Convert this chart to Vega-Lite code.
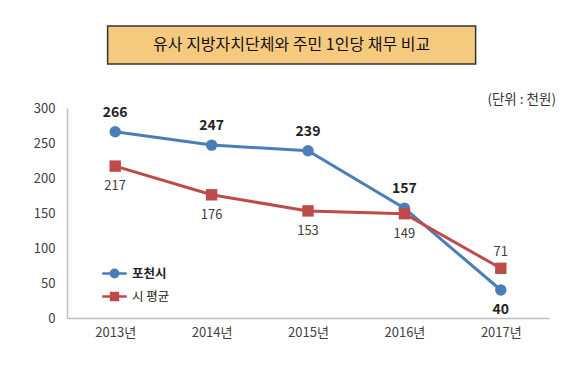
{
  "$schema": "https://vega.github.io/schema/vega-lite/v6.json",
  "padding": {"top": 25, "left": 33, "right": 5, "bottom": 5},
  "background": "white",
  "center": true,
  "spacing": 27,
  "resolve": {"legend": {"color": "independent"}, "scale": {"color": "independent"}},
  "config": {
    "font": "Noto Sans CJK KR",
    "axis": {"domainColor": "#BFBFBF", "domainWidth": 1.5, "ticks": false, "grid": false, "labelColor": "#404040", "labelFontSize": 13, "title": null},
    "legend": {"padding": 0, "rowPadding": -1}
  },
  "vconcat": [
    {
      "width": 368,
      "height": 38,
      "view": {"fill": "#F5CA7F", "stroke": "#333333", "strokeWidth": 1.5},
      "title": {"text": " ", "orient": "right", "offset": 26},
      "data": {"values": [{"t": "유사 지방자치단체와 주민 1인당 채무 비교"}]},
      "mark": {"type": "text", "fontSize": 16, "color": "#111111"},
      "encoding": {"text": {"field": "t"}}
    },
    {
      "width": 482,
      "height": 210,
      "view": {"stroke": null},
      "title": {"text": "(단위 : 천원)", "anchor": "end", "fontSize": 13.5, "fontWeight": "normal", "color": "#333333", "dx": 7, "offset": -4},
      "data": {"values": [
        {"year": "2013년", "series": "포천시", "value": 266},
        {"year": "2014년", "series": "포천시", "value": 247},
        {"year": "2015년", "series": "포천시", "value": 239},
        {"year": "2016년", "series": "포천시", "value": 157},
        {"year": "2017년", "series": "포천시", "value": 40},
        {"year": "2013년", "series": "시 평균", "value": 217},
        {"year": "2014년", "series": "시 평균", "value": 176},
        {"year": "2015년", "series": "시 평균", "value": 153},
        {"year": "2016년", "series": "시 평균", "value": 149},
        {"year": "2017년", "series": "시 평균", "value": 71}
      ]},
      "encoding": {
        "x": {"field": "year", "type": "ordinal", "sort": null, "scale": {"type": "point", "padding": 0.5}, "axis": {"labelAngle": 0, "labelPadding": 8}},
        "y": {"field": "value", "type": "quantitative", "scale": {"domain": [0, 300], "nice": false}, "axis": {"values": [0, 50, 100, 150, 200, 250, 300], "labelPadding": 12}}
      },
      "layer": [
        {
          "mark": {"type": "line", "strokeWidth": 3},
          "encoding": {
            "color": {"field": "series", "type": "nominal", "scale": {"domain": ["포천시", "시 평균"], "range": ["#4A7EBB", "#BE4B48"]},
              "legend": {"title": null, "orient": "none", "legendX": 34, "legendY": 152, "symbolSize": 600, "labelFontSize": 12.5, "labelColor": "#222222",
                "encode": {
                  "symbols": {"update": {
                    "shape": {"signal": "datum.value === '포천시' ? 'M-1,0H1M-0.3,0A0.3,0.3,0,1,1,0.3,0A0.3,0.3,0,1,1,-0.3,0Z' : 'M-1,0H1M-0.28,-0.28H0.28V0.28H-0.28Z'"},
                    "fill": {"signal": "datum.value === '포천시' ? '#4A7EBB' : '#BE4B48'"},
                    "stroke": {"signal": "datum.value === '포천시' ? '#4A7EBB' : '#BE4B48'"},
                    "strokeWidth": {"value": 2.5},
                    "opacity": {"value": 1}
                  }},
                  "labels": {"update": {"fontWeight": {"signal": "datum.value === '포천시' ? 'bold' : 'normal'"}}}
                }
              }}
          }
        },
        {
          "mark": {"type": "point", "filled": true, "opacity": 1, "size": 130},
          "encoding": {
            "color": {"field": "series", "type": "nominal"},
            "shape": {"field": "series", "type": "nominal", "scale": {"domain": ["포천시", "시 평균"], "range": ["circle", "square"]}, "legend": null}
          }
        },
        {
          "transform": [{"filter": "datum.series === '포천시' && datum.year !== '2017년'"}],
          "mark": {"type": "text", "dy": -19, "fontSize": 14, "fontWeight": "bold", "color": "#222222"},
          "encoding": {"text": {"field": "value"}}
        },
        {
          "transform": [{"filter": "datum.series === '포천시' && datum.year === '2017년'"}],
          "mark": {"type": "text", "dy": 20, "fontSize": 14, "fontWeight": "bold", "color": "#222222"},
          "encoding": {"text": {"field": "value"}}
        },
        {
          "transform": [{"filter": "datum.series === '시 평균' && datum.year !== '2017년'"}],
          "mark": {"type": "text", "dy": 20, "fontSize": 13, "color": "#404040"},
          "encoding": {"text": {"field": "value"}}
        },
        {
          "transform": [{"filter": "datum.series === '시 평균' && datum.year === '2017년'"}],
          "mark": {"type": "text", "dy": -16, "fontSize": 13, "color": "#404040"},
          "encoding": {"text": {"field": "value"}}
        }
      ]
    }
  ]
}
